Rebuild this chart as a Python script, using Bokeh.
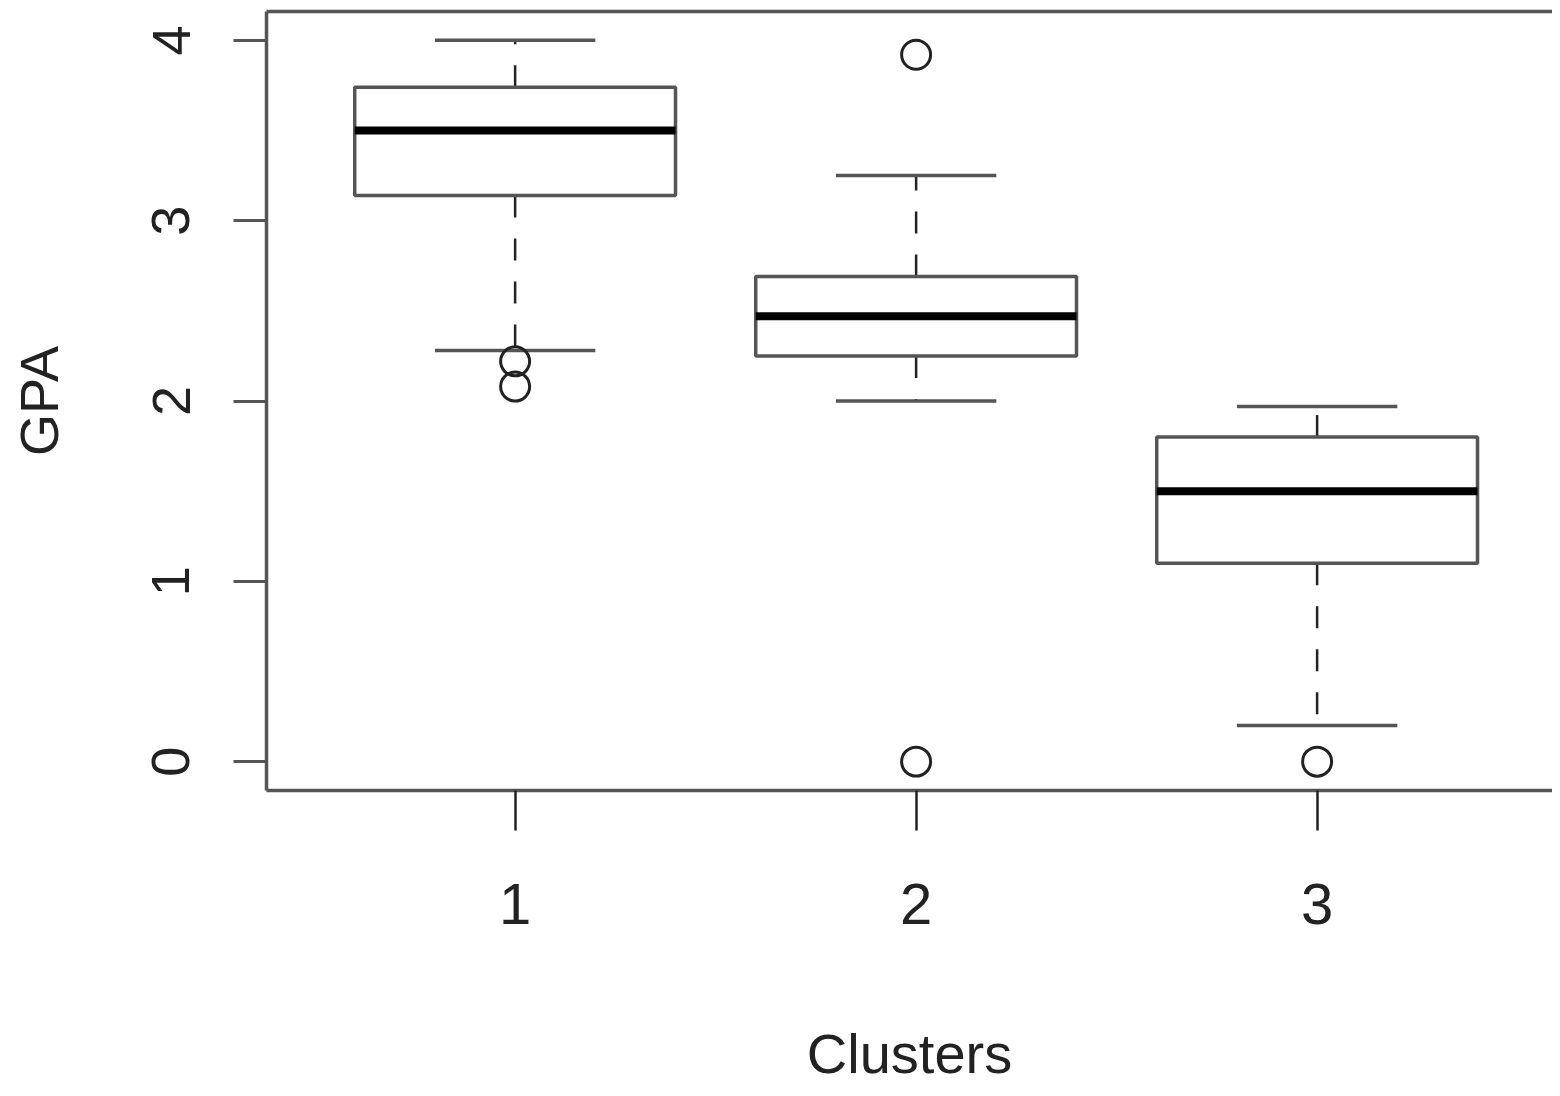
from bokeh.plotting import figure
from bokeh.models import ColumnDataSource, FixedTicker, LinearAxis, Range1d
from bokeh.embed import file_html
from bokeh.resources import INLINE

# ---- data ----
clusters = [1, 2, 3]
q1 = [3.14, 2.25, 1.10]
median = [3.50, 2.47, 1.50]
q3 = [3.74, 2.69, 1.80]
whisker_low = [2.28, 2.00, 0.20]
whisker_high = [4.00, 3.25, 1.97]
outlier_cluster = [1, 1, 2, 2, 3]
outlier_gpa = [2.22, 2.08, 3.92, 0.00, 0.00]
y_ticks = [0, 1, 2, 3, 4]
x_title = "Clusters"
y_title = "GPA"

FONT = "Liberation Sans"
INK = "#222222"
FRAME = "#555555"

box_w = 0.8
cap_w = 0.4

src = ColumnDataSource(dict(
    x=clusters, q1=q1, med=median, q3=q3, lo=whisker_low, hi=whisker_high,
    left=[c - box_w / 2 for c in clusters], right=[c + box_w / 2 for c in clusters],
    cl=[c - cap_w / 2 for c in clusters], cr=[c + cap_w / 2 for c in clusters],
))
out_src = ColumnDataSource(dict(x=outlier_cluster, y=outlier_gpa))

p = figure(width=1552, height=1088, output_backend="svg", toolbar_location=None,
           x_range=Range1d(0.38, 3.587), y_range=Range1d(-0.16, 4.16),
           min_border_left=266, min_border_right=0, min_border_top=11, min_border_bottom=298,
           x_axis_label=x_title, y_axis_label=y_title)
p.grid.visible = False
p.outline_line_color = None
p.background_fill_color = "white"
p.border_fill_color = "white"

# whiskers (dashed)
p.segment(x0="x", y0="q3", x1="x", y1="hi", source=src, line_color=INK, line_width=2.5,
          line_dash="22 21")
p.segment(x0="x", y0="q1", x1="x", y1="lo", source=src, line_color=INK, line_width=2.5,
          line_dash="22 21")
# caps
p.segment(x0="cl", y0="hi", x1="cr", y1="hi", source=src, line_color=FRAME, line_width=3.5)
p.segment(x0="cl", y0="lo", x1="cr", y1="lo", source=src, line_color=FRAME, line_width=3.5)
# boxes
p.quad(left="left", right="right", bottom="q1", top="q3", source=src,
       fill_color="white", line_color=FRAME, line_width=3.5)
# medians
p.segment(x0="left", y0="med", x1="right", y1="med", source=src, line_color="black", line_width=8)
# outliers
p.scatter(x="x", y="y", source=out_src, marker="circle", size=29, fill_color=None,
          line_color=INK, line_width=3)

# axes
xa = p.xaxis[0]
xa.ticker = FixedTicker(ticks=clusters)
xa.major_tick_out = 40
xa.major_tick_in = 0
xa.minor_tick_line_color = None
xa.major_tick_line_color = INK
xa.major_tick_line_width = 2.5
xa.axis_line_color = FRAME
xa.axis_line_width = 3.5
xa.major_label_text_font = FONT
xa.major_label_text_font_size = "58px"
xa.major_label_text_color = INK
xa.major_label_standoff = 53
xa.axis_label_text_font = FONT
xa.axis_label_text_font_size = "56px"
xa.axis_label_text_font_style = "normal"
xa.axis_label_text_color = INK
xa.axis_label_text_line_height = 0.7
xa.axis_label_standoff = 95

ya = p.yaxis[0]
ya.ticker = FixedTicker(ticks=y_ticks)
ya.major_tick_out = 33
ya.major_tick_in = 0
ya.minor_tick_line_color = None
ya.major_tick_line_color = FRAME
ya.major_tick_line_width = 3
ya.axis_line_color = FRAME
ya.axis_line_width = 3.5
ya.major_label_orientation = "vertical"
ya.major_label_text_font = FONT
ya.major_label_text_font_size = "54px"
ya.major_label_text_color = INK
ya.major_label_standoff = 44
ya.axis_label_text_font = FONT
ya.axis_label_text_font_size = "54px"
ya.axis_label_text_font_style = "normal"
ya.axis_label_text_color = INK
ya.axis_label_standoff = 81

top = LinearAxis(ticker=FixedTicker(ticks=[]), major_tick_out=0, major_tick_in=0,
                 minor_tick_out=0, minor_tick_in=0, major_label_text_font_size="0px",
                 axis_line_color=FRAME, axis_line_width=3.5, major_label_standoff=0)
p.add_layout(top, "above")

open("out.html", "w").write(file_html(p, INLINE))
